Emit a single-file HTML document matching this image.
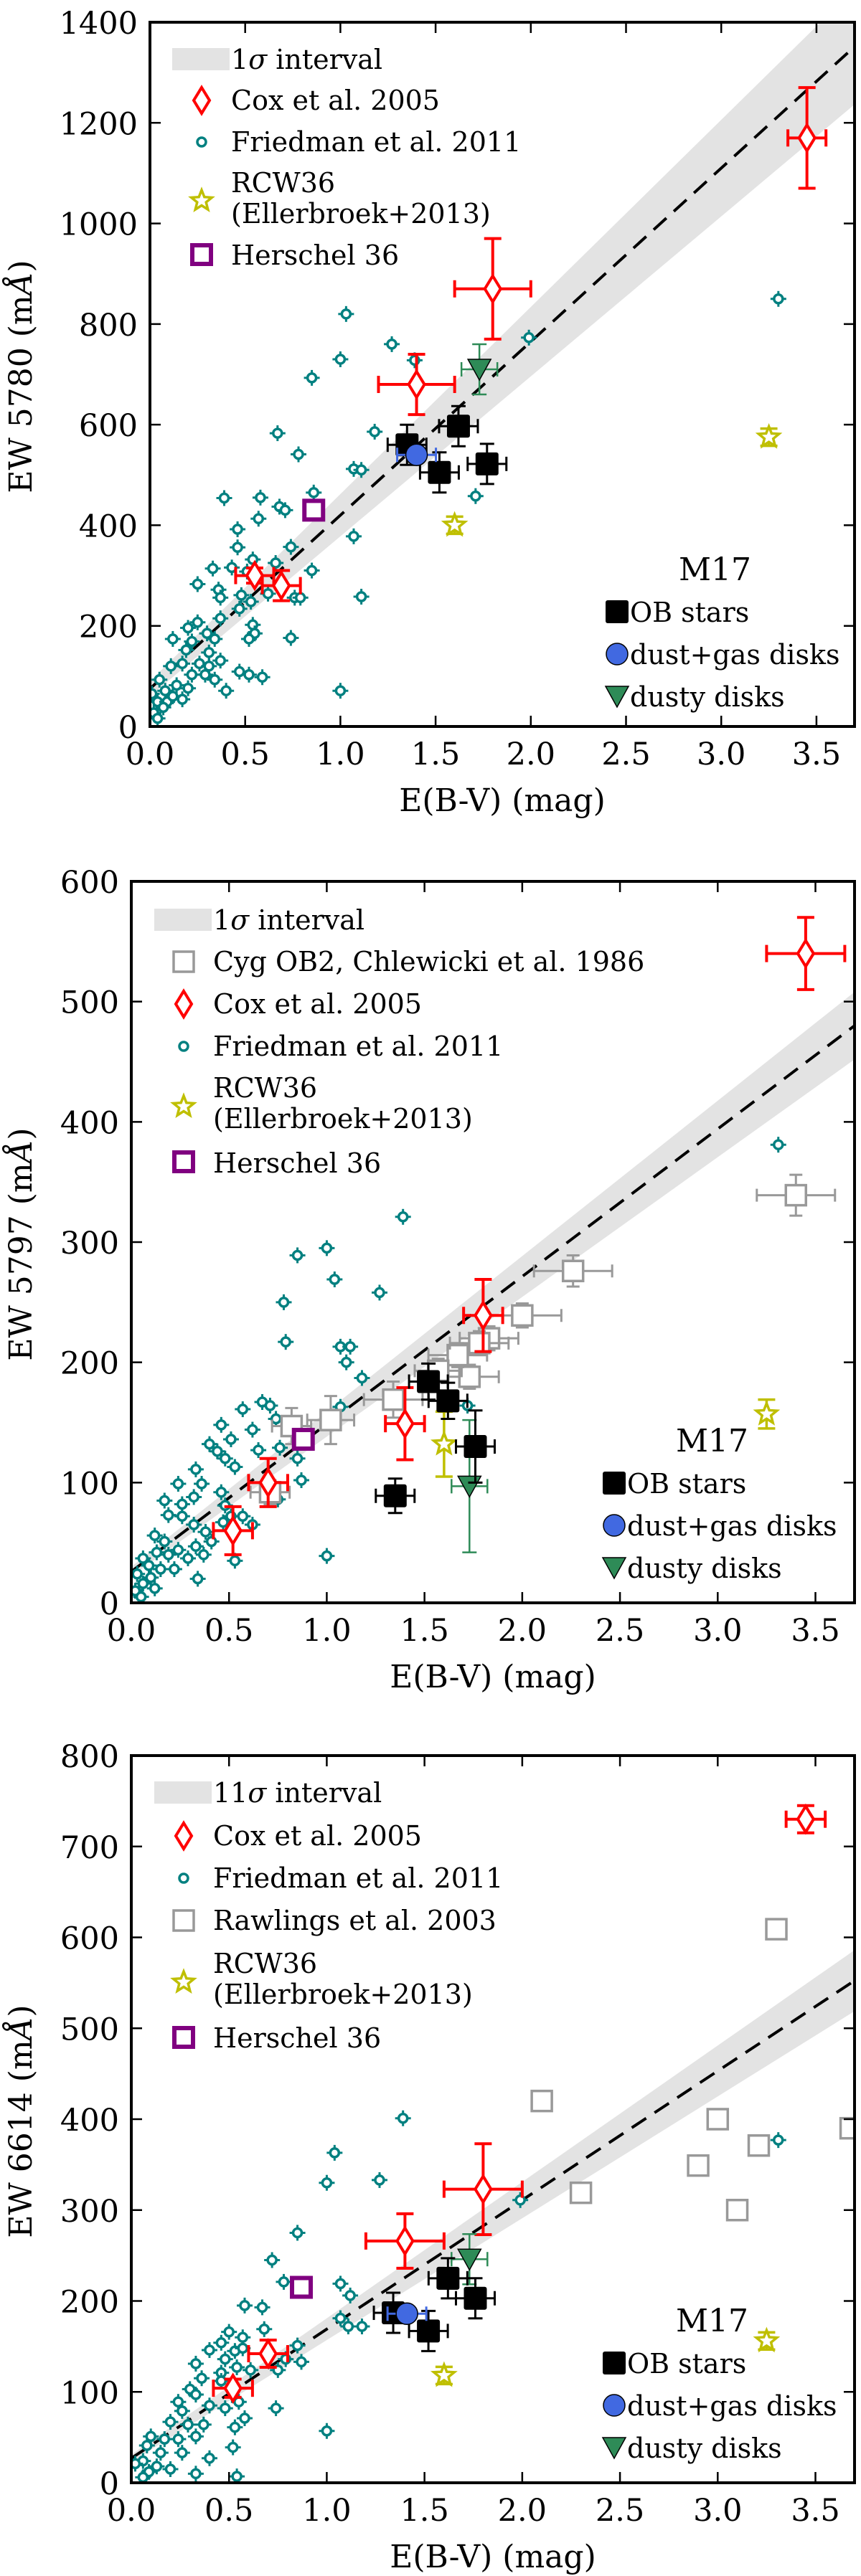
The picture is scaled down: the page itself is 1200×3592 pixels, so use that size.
<!DOCTYPE html>
<html><head><meta charset="utf-8"><title>DIB equivalent widths vs E(B-V)</title>
<style>html,body{margin:0;padding:0;background:#fff}svg{display:block}text{font-family:"DejaVu Serif","Liberation Serif",serif;fill:#000}</style>
</head><body>
<svg id="fig" xmlns="http://www.w3.org/2000/svg" width="1200" height="3592" viewBox="0 0 1200 3592"></svg>
<script>
// ---------- Panel 1: EW 5780 ----------
const p1FriedX=[1.03,1.0,0.85,1.27,1.39,1.99,3.30,0.67,0.78,1.18,1.07,1.11,0.86,0.39,0.58,0.68,0.71,0.57,1.07,1.71,0.46,0.46,0.74,0.54,0.33,0.66,0.85,0.43,0.25,0.51,0.36,0.37,0.48,0.62,0.76,0.79,1.11,0.53,0.47,0.54,0.55,0.52,0.74,0.37,0.30,0.25,0.20,0.12,0.19,0.34,0.31,0.37,0.26,0.17,0.11,0.22,0.29,0.34,0.40,0.52,0.59,1.0,0.05,0.08,0.14,0.20,0.04,0.09,0.17,0.02,0.07,0.04,0.12,0.01,0.22,0.31,0.47];
const p1FriedY=[820,730,693,760,728,773,850,583,541,586,512,510,465,454,455,437,430,413,378,458,392,356,357,332,314,325,310,316,283,308,272,256,261,264,256,256,258,248,234,202,185,174,176,215,185,207,196,174,152,174,147,131,125,125,120,103,103,93,71,103,98,71,93,71,82,76,49,49,54,27,38,16,60,65,169,120,109];
const p1CoxX=[0.55,0.69,1.40,1.80,3.45];
const p1CoxY=[300,280,680,870,1170];
const p1CoxXerr=[0.1,0.1,0.2,0.2,0.1];
const p1CoxYerr=[15,30,60,100,100];
const p1ObX=[1.35,1.62,1.52,1.77];
const p1ObY=[560,597,505,522];
const p1DgX=[1.40];
const p1DgY=[540];
const p1DdX=[1.73];
const p1DdY=[710];
const p1RcwX=[1.60,3.25];
const p1RcwY=[400,575];
const p1HerX=[0.86];
const p1HerY=[430];
const p1Fit=[75,345,15,27];
const p1Yticks=[0,200,400,600,800,1000,1200,1400];
// ---------- Panel 2: EW 5797 ----------
const p2FriedX=[3.31,1.39,1.0,0.85,1.04,1.27,0.78,0.79,1.99,1.07,1.12,1.10,1.18,1.07,1.72,0.67,0.71,0.57,0.74,0.62,0.46,0.40,0.51,0.44,0.53,0.33,0.85,0.76,0.48,0.36,0.24,0.32,0.17,0.26,0.87,0.46,0.48,0.57,0.62,0.47,0.51,0.26,0.19,0.32,0.38,0.41,0.33,0.24,0.12,0.17,0.13,0.06,0.19,0.29,0.37,0.09,0.15,0.22,0.03,0.10,0.34,0.06,0.02,0.12,0.53,1.0,0.75,0.65,0.05];
const p2FriedY=[381,321,295,289,269,258,250,217,239,213,213,200,187,163,164,167,164,161,153,144,148,132,136,126,113,111,120,129,120,99,99,88,85,82,102,92,81,72,65,67,72,72,73,65,59,51,47,44,56,51,42,37,40,37,40,31,28,28,24,21,20,16,10,12,35,39,86,127,5];
const p2CygX=[3.40,2.26,2.0,1.83,1.73,1.67,1.57,1.34,1.02,0.82,0.71,1.78];
const p2CygY=[339,276,239,220,188,206,193,169,152,147,92,216];
const p2CygXerr=[0.2,0.2,0.2,0.15,0.15,0.15,0.12,0.15,0.12,0.1,0.1,0.15];
const p2CygYerr=[17,13,10,10,10,10,10,15,20,15,10,10];
const p2CoxX=[3.45,1.80,1.40,0.70,0.52];
const p2CoxY=[540,239,149,100,60];
const p2CoxXerr=[0.2,0.1,0.1,0.1,0.1];
const p2CoxYerr=[30,30,30,20,20];
const p2ObX=[1.52,1.62,1.76,1.35];
const p2ObY=[184,168,130,89];
const p2ObYerr=[15,15,30,6];
const p2DdX=[1.73];
const p2DdY=[97];
const p2RcwX=[1.60,3.25];
const p2RcwY=[132,157];
const p2RcwYerr=[27,12];
const p2HerX=[0.88];
const p2HerY=[136];
const p2Fit=[26,122.7,4,6.5];
const p2Yticks=[0,100,200,300,400,500,600];
// ---------- Panel 3: EW 6614 ----------
const p3FriedX=[3.31,1.39,1.04,1.0,1.27,0.85,1.99,0.72,0.78,1.07,1.12,0.58,0.67,0.68,1.07,1.11,1.18,0.85,0.87,0.75,0.79,0.50,0.46,0.40,0.57,0.53,0.48,0.57,0.33,0.36,0.54,0.46,0.61,0.46,0.30,0.24,0.33,0.40,0.48,0.74,0.55,0.58,0.26,0.20,0.29,0.37,0.53,0.10,0.17,0.24,0.33,0.52,0.08,0.15,0.40,0.06,0.13,0.02,0.20,0.09,0.33,0.06,0.54,1.0,0.26];
const p3FriedY=[377,401,363,330,333,275,311,245,221,219,206,195,193,169,181,172,172,151,133,124,136,166,154,146,160,145,136,148,131,115,127,121,124,112,103,89,97,85,82,82,89,71,79,67,64,64,61,51,48,48,51,39,41,33,27,24,18,21,15,12,10,6,7,57,33];
const p3RawX=[3.30,2.10,3.0,3.68,3.21,2.90,2.30,3.10];
const p3RawY=[609,420,400,390,371,349,319,300];
const p3CoxX=[3.45,1.80,1.40,0.70,0.52];
const p3CoxY=[730,323,266,142,104];
const p3CoxXerr=[0.1,0.2,0.2,0.1,0.1];
const p3CoxYerr=[15,50,30,15,10];
const p3ObX=[1.62,1.76,1.34,1.52];
const p3ObY=[225,203,187,167];
const p3DgX=[1.41];
const p3DgY=[186];
const p3DdX=[1.73];
const p3DdY=[246];
const p3RcwX=[1.60,3.25];
const p3RcwY=[118,156];
const p3HerX=[0.87];
const p3HerY=[215];
const p3Fit=[27,142,4,8];
const p3Yticks=[0,100,200,300,400,500,600,700,800];
const xTicks=[0.0,0.5,1.0,1.5,2.0,2.5,3.0,3.5];

const NS='http://www.w3.org/2000/svg';
const svg=document.getElementById('fig');
function mk(parent,tag,attrs){const e=document.createElementNS(NS,tag);for(const k in attrs)e.setAttribute(k,attrs[k]);parent.appendChild(e);return e;}
const TEAL='#008080',RED='#ff0000',YEL='#bfbf00',PUR='#800080',GRAY='#999999',BLUE='#4169e1',GREEN='#2e8b57';

function marker(g,type,px,py){
  let e;
  if(type==='cox'){e=mk(g,'polygon',{points:`${px},${py-18} ${px+11},${py} ${px},${py+18} ${px-11},${py}`,fill:'#fff',stroke:RED,'stroke-width':4});}
  else if(type==='fried'){e=mk(g,'circle',{cx:px,cy:py,r:6,fill:'#fff',stroke:TEAL,'stroke-width':3.5});}
  else if(type==='ob'){e=mk(g,'rect',{x:px-16,y:py-16,width:32,height:32,rx:3,fill:'#000'});}
  else if(type==='dg'){e=mk(g,'circle',{cx:px,cy:py,r:15,fill:BLUE,stroke:'#000','stroke-width':1.5});}
  else if(type==='dd'){e=mk(g,'polygon',{points:`${px-16},${py-14} ${px+16},${py-14} ${px},${py+15}`,fill:GREEN,stroke:'#000','stroke-width':1.5});}
  else if(type==='her'){e=mk(g,'rect',{x:px-13,y:py-13,width:26,height:26,fill:'#fff',stroke:PUR,'stroke-width':6});}
  else if(type==='gray'){e=mk(g,'rect',{x:px-14,y:py-14,width:28,height:28,fill:'#fff',stroke:GRAY,'stroke-width':3.5});}
  else if(type==='rcw'){
    let pts=[];for(let i=0;i<10;i++){const r=i%2?6.5:15;const a=-Math.PI/2+i*Math.PI/5;pts.push((px+r*Math.cos(a)).toFixed(1)+','+(py+r*Math.sin(a)).toFixed(1));}
    e=mk(g,'polygon',{points:pts.join(' '),fill:'#fff',stroke:YEL,'stroke-width':3.5});}
  return e;
}
function errbar(g,px,py,ex,ey,color,w,cap){
  const eg=mk(g,'g',{stroke:color,'stroke-width':w,fill:'none'});
  if(ex>0){mk(eg,'line',{x1:px-ex,y1:py,x2:px+ex,y2:py});if(cap>0){mk(eg,'line',{x1:px-ex,y1:py-cap,x2:px-ex,y2:py+cap});mk(eg,'line',{x1:px+ex,y1:py-cap,x2:px+ex,y2:py+cap});}}
  if(ey>0){mk(eg,'line',{x1:px,y1:py-ey,x2:px,y2:py+ey});if(cap>0){mk(eg,'line',{x1:px-cap,y1:py-ey,x2:px+cap,y2:py-ey});mk(eg,'line',{x1:px-cap,y1:py+ey,x2:px+cap,y2:py+ey});}}
  return eg;
}
function txt(g,x,y,s,size,anchor){const t=mk(g,'text',{x:x,y:y,'font-size':size,'text-anchor':anchor||'start'});t.textContent=s;return t;}

function panel(c){
  const L=c.left,R=c.right,T=c.top,B=c.bottom;
  const sx=v=>L+(R-L)*v/3.7, sy=v=>B-(B-T)*v/c.ymax;
  const g=mk(svg,'g',{});
  
  
  const cp=mk(g,'clipPath',{id:c.name+'-clip'});mk(cp,'rect',{x:L,y:T,width:R-L,height:B-T});
  const plot=mk(g,'g',{'clip-path':`url(#${c.name}-clip)`});
  
  
  const f=c.fit;
  const band=mk(plot,'polygon',{points:`${sx(0)},${sy(f[0]+f[2])} ${sx(3.7)},${sy(f[0]+f[2]+(f[1]+f[3])*3.7)} ${sx(3.7)},${sy(f[0]-f[2]+(f[1]-f[3])*3.7)} ${sx(0)},${sy(f[0]-f[2])}`,fill:'#e3e3e3'});
  
  
  const fl=mk(plot,'line',{x1:sx(0),y1:sy(f[0]),x2:sx(3.7),y2:sy(f[0]+f[1]*3.7),stroke:'#000','stroke-width':4,'stroke-dasharray':'24 14'});
  
  
  c.fx.forEach((x,i)=>{const px=sx(x),py=sy(c.fy[i]);const eg=errbar(plot,px,py,11,11,TEAL,3,0);
    
    
    const m=marker(plot,'fried',px,py);
    
    });
  if(c.cygX)c.cygX.forEach((x,i)=>{const px=sx(x),py=sy(c.cygY[i]);const eg=errbar(plot,px,py,sx(c.cygXe[i])-sx(0),sy(0)-sy(c.cygYe[i]),GRAY,3,9);
    
    
    const m=marker(plot,'gray',px,py);
    
    });
  if(c.rawX)c.rawX.forEach((x,i)=>{const m=marker(plot,'gray',sx(x),sy(c.rawY[i]));
    
    });
  c.coxX.forEach((x,i)=>{const px=sx(x),py=sy(c.coxY[i]);const eg=errbar(plot,px,py,sx(c.coxXe[i])-sx(0),sy(0)-sy(c.coxYe[i]),RED,4,12);
    
    
    const m=marker(plot,'cox',px,py);
    
    });
  c.rcwX.forEach((x,i)=>{const px=sx(x),py=sy(c.rcwY[i]);const eg=errbar(plot,px,py,0,c.rcwYe?sy(0)-sy(c.rcwYe[i]):12,YEL,3.5,12);
    
    
    const m=marker(plot,'rcw',px,py);
    
    });
  c.herX.forEach((x,i)=>{const m=marker(plot,'her',sx(x),sy(c.herY[i]));
    
    });
  if(c.ddX)c.ddX.forEach((x,i)=>{const px=sx(x),py=sy(c.ddY[i]);const eg=errbar(plot,px,py,25,c.ddYe?sy(0)-sy(c.ddYe[i]):35,GREEN,2.5,10);
    
    
    const m=marker(plot,'dd',px,py);
    
    });
  c.obX.forEach((x,i)=>{const px=sx(x),py=sy(c.obY[i]);const eg=errbar(plot,px,py,27,c.obYe?Math.max(24,sy(0)-sy(c.obYe[i])):28,'#000',3,10);
    
    
    const m=marker(plot,'ob',px,py);
    
    });
  if(c.dgX)c.dgX.forEach((x,i)=>{const px=sx(x),py=sy(c.dgY[i]);const eg=errbar(plot,px,py,27,0,BLUE,3,10);
    
    
    const m=marker(plot,'dg',px,py);
    
    });
  const fr=mk(g,'rect',{x:L,y:T,width:R-L,height:B-T,fill:'none',stroke:'#000','stroke-width':4});
  
  
  xTicks.forEach(v=>{const px=sx(v);
    const tk=mk(g,'path',{d:`M${px},${B} v-15 M${px},${T} v15`,stroke:'#000','stroke-width':2.5});
    
    
    const tl=txt(g,px,B+53,v.toFixed(1),43,'middle');
    
    });
  c.yt.forEach(v=>{const py=sy(v);
    const tk=mk(g,'path',{d:`M${L},${py} h15 M${R},${py} h-15`,stroke:'#000','stroke-width':2.5});
    
    
    const tl=txt(g,L-17,py+16,String(v),43,'end');
    
    });
  const xl=txt(g,(L+R)/2,B+118,'E(B-V) (mag)',44,'middle');
  
  
  const yl=mk(g,'text',{x:0,y:0,'font-size':44,'text-anchor':'middle',transform:`translate(${c.ylx},${c.yly}) rotate(-90)`});
  yl.innerHTML=c.ylab+' (m<tspan font-style="italic">Å</tspan>)';
  
  
  const lg=mk(g,'g',{});
  
  
  const sw=mk(lg,'rect',{x:c.lgX-41,y:c.lgSwY,width:80,height:31,fill:'#e3e3e3'});
  
  
  const st=mk(lg,'text',{x:c.lgX+41,y:c.lgSwY+29,'font-size':38});
  st.innerHTML=c.sigmaTxt+'<tspan font-style="italic">σ</tspan> interval';
  
  
  c.lg.forEach(en=>{const m=marker(lg,en[0],c.lgX,en[1]);
    
    
    en[2].forEach((s,k)=>{const t=txt(lg,c.lgX+41,en[3]+k*43,s,38);
      
      });});
  const m17=mk(g,'g',{});
  
  
  const mt=txt(m17,c.m17X,c.m17Y,'M17',44);
  
  
  [['ob','OB stars'],['dg','dust+gas disks'],['dd','dusty disks']].forEach((en,k)=>{
    const yy=c.m17Y+44+k*59;
    const m=marker(m17,en[0],c.m17X-86,yy);
    
    
    const t=txt(m17,c.m17X-68,yy+14,en[1],38);
    
    });
}

panel({name:'panel-5780',left:209,right:1191,top:31,bottom:1013,ymax:1400,yt:p1Yticks,fit:p1Fit,
  fx:p1FriedX,fy:p1FriedY,coxX:p1CoxX,coxY:p1CoxY,coxXe:p1CoxXerr,coxYe:p1CoxYerr,obX:p1ObX,obY:p1ObY,
  dgX:p1DgX,dgY:p1DgY,ddX:p1DdX,ddY:p1DdY,rcwX:p1RcwX,rcwY:p1RcwY,herX:p1HerX,herY:p1HerY,
  ylab:'EW 5780',ylx:44,yly:525,sigmaTxt:'1',lgX:281,lgSwY:67,
  lg:[['cox',140,['Cox et al. 2005'],153],['fried',198,['Friedman et al. 2011'],211],['rcw',280,['RCW36','(Ellerbroek+2013)'],268],['her',355,['Herschel 36'],369]],
  m17X:946,m17Y:809});
panel({name:'panel-5797',left:183,right:1191,top:1229,bottom:2235,ymax:600,yt:p2Yticks,fit:p2Fit,
  fx:p2FriedX,fy:p2FriedY,cygX:p2CygX,cygY:p2CygY,cygXe:p2CygXerr,cygYe:p2CygYerr,coxX:p2CoxX,coxY:p2CoxY,coxXe:p2CoxXerr,coxYe:p2CoxYerr,
  obX:p2ObX,obY:p2ObY,obYe:p2ObYerr,ddX:p2DdX,ddY:p2DdY,ddYe:[55],rcwX:p2RcwX,rcwY:p2RcwY,rcwYe:p2RcwYerr,herX:p2HerX,herY:p2HerY,
  ylab:'EW 5797',ylx:44,yly:1735,sigmaTxt:'1',lgX:256,lgSwY:1267,
  lg:[['gray',1341,['Cyg OB2, Chlewicki et al. 1986'],1354],['cox',1400,['Cox et al. 2005'],1413],['fried',1459,['Friedman et al. 2011'],1472],['rcw',1543,['RCW36','(Ellerbroek+2013)'],1530],['her',1620,['Herschel 36'],1635]],
  m17X:942,m17Y:2024});
panel({name:'panel-6614',left:183,right:1191,top:2448,bottom:3462,ymax:800,yt:p3Yticks,fit:p3Fit,
  fx:p3FriedX,fy:p3FriedY,rawX:p3RawX,rawY:p3RawY,coxX:p3CoxX,coxY:p3CoxY,coxXe:p3CoxXerr,coxYe:p3CoxYerr,obX:p3ObX,obY:p3ObY,
  dgX:p3DgX,dgY:p3DgY,ddX:p3DdX,ddY:p3DdY,rcwX:p3RcwX,rcwY:p3RcwY,herX:p3HerX,herY:p3HerY,
  ylab:'EW 6614',ylx:44,yly:2958,sigmaTxt:'11',lgX:256,lgSwY:2484,
  lg:[['cox',2560,['Cox et al. 2005'],2573],['fried',2619,['Friedman et al. 2011'],2632],['gray',2678,['Rawlings et al. 2003'],2691],['rcw',2764,['RCW36','(Ellerbroek+2013)'],2751],['her',2841,['Herschel 36'],2855]],
  m17X:942,m17Y:3251});
</script>
</body></html>
